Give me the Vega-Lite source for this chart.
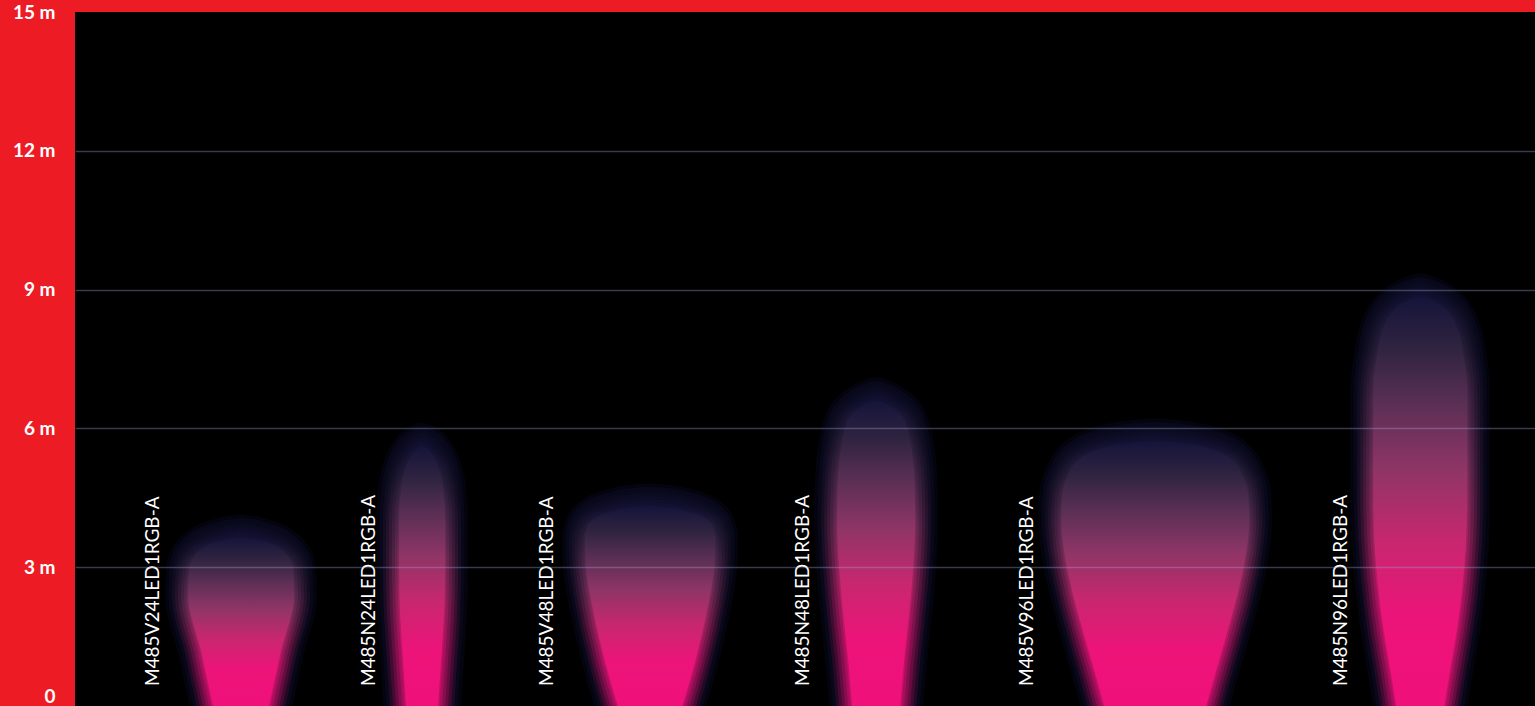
{
  "$schema": "https://vega.github.io/schema/vega-lite/v6.json",
  "width": 1460,
  "height": 694,
  "autosize": "none",
  "padding": {"left": 75, "top": 12, "right": 0, "bottom": 0},
  "background": "#ED1C24",
  "config": {"view": {"fill": "#000000", "stroke": null}},
  "datasets": {
    "beams": [
      {"beam": "M485V24LED1RGB-A", "h": 0, "xl": 2.983, "xr": 4.193},
      {"beam": "M485V24LED1RGB-A", "h": 1.2, "xl": 2.723, "xr": 4.453},
      {"beam": "M485V24LED1RGB-A", "h": 2.4, "xl": 2.442, "xr": 4.734},
      {"beam": "M485V24LED1RGB-A", "h": 2.95, "xl": 2.464, "xr": 4.712},
      {"beam": "M485V24LED1RGB-A", "h": 3.2, "xl": 2.551, "xr": 4.625},
      {"beam": "M485V24LED1RGB-A", "h": 3.38, "xl": 2.723, "xr": 4.453},
      {"beam": "M485V24LED1RGB-A", "h": 3.5, "xl": 2.939, "xr": 4.237},
      {"beam": "M485V24LED1RGB-A", "h": 3.57, "xl": 3.177, "xr": 3.999},
      {"beam": "M485V24LED1RGB-A", "h": 3.62, "xl": 3.393, "xr": 3.783},
      {"beam": "M485V24LED1RGB-A", "h": 3.64, "xl": 3.588, "xr": 3.588},

      {"beam": "M485N24LED1RGB-A", "h": 0, "xl": 7.154, "xr": 7.846},
      {"beam": "M485N24LED1RGB-A", "h": 1, "xl": 7.089, "xr": 7.911},
      {"beam": "M485N24LED1RGB-A", "h": 2, "xl": 7.025, "xr": 7.975},
      {"beam": "M485N24LED1RGB-A", "h": 3, "xl": 7.003, "xr": 7.997},
      {"beam": "M485N24LED1RGB-A", "h": 4, "xl": 7.003, "xr": 7.997},
      {"beam": "M485N24LED1RGB-A", "h": 4.7, "xl": 7.046, "xr": 7.954},
      {"beam": "M485N24LED1RGB-A", "h": 5.17, "xl": 7.154, "xr": 7.846},
      {"beam": "M485N24LED1RGB-A", "h": 5.42, "xl": 7.284, "xr": 7.716},
      {"beam": "M485N24LED1RGB-A", "h": 5.55, "xl": 7.392, "xr": 7.608},
      {"beam": "M485N24LED1RGB-A", "h": 5.62, "xl": 7.5, "xr": 7.5},

      {"beam": "M485V48LED1RGB-A", "h": 0, "xl": 11.733, "xr": 13.123},
      {"beam": "M485V48LED1RGB-A", "h": 0.5, "xl": 11.582, "xr": 13.274},
      {"beam": "M485V48LED1RGB-A", "h": 1.5, "xl": 11.322, "xr": 13.534},
      {"beam": "M485V48LED1RGB-A", "h": 2.3, "xl": 11.15, "xr": 13.706},
      {"beam": "M485V48LED1RGB-A", "h": 3.0, "xl": 11.042, "xr": 13.814},
      {"beam": "M485V48LED1RGB-A", "h": 3.6, "xl": 11.02, "xr": 13.836},
      {"beam": "M485V48LED1RGB-A", "h": 3.9, "xl": 11.085, "xr": 13.771},
      {"beam": "M485V48LED1RGB-A", "h": 4.0, "xl": 11.171, "xr": 13.685},
      {"beam": "M485V48LED1RGB-A", "h": 4.11, "xl": 11.344, "xr": 13.512},
      {"beam": "M485V48LED1RGB-A", "h": 4.21, "xl": 11.668, "xr": 13.188},
      {"beam": "M485V48LED1RGB-A", "h": 4.28, "xl": 11.973, "xr": 12.883},
      {"beam": "M485V48LED1RGB-A", "h": 4.32, "xl": 12.428, "xr": 12.428},

      {"beam": "M485N48LED1RGB-A", "h": 0, "xl": 16.794, "xr": 17.832},
      {"beam": "M485N48LED1RGB-A", "h": 1, "xl": 16.708, "xr": 17.918},
      {"beam": "M485N48LED1RGB-A", "h": 2, "xl": 16.6, "xr": 18.026},
      {"beam": "M485N48LED1RGB-A", "h": 3, "xl": 16.513, "xr": 18.113},
      {"beam": "M485N48LED1RGB-A", "h": 4, "xl": 16.47, "xr": 18.156},
      {"beam": "M485N48LED1RGB-A", "h": 5, "xl": 16.492, "xr": 18.134},
      {"beam": "M485N48LED1RGB-A", "h": 5.6, "xl": 16.557, "xr": 18.069},
      {"beam": "M485N48LED1RGB-A", "h": 6.0, "xl": 16.643, "xr": 17.983},
      {"beam": "M485N48LED1RGB-A", "h": 6.28, "xl": 16.773, "xr": 17.853},
      {"beam": "M485N48LED1RGB-A", "h": 6.47, "xl": 17.01, "xr": 17.616},
      {"beam": "M485N48LED1RGB-A", "h": 6.57, "xl": 17.205, "xr": 17.421},
      {"beam": "M485N48LED1RGB-A", "h": 6.61, "xl": 17.313, "xr": 17.313},

      {"beam": "M485V96LED1RGB-A", "h": 0, "xl": 22.241, "xr": 24.445},
      {"beam": "M485V96LED1RGB-A", "h": 0.7, "xl": 22.046, "xr": 24.64},
      {"beam": "M485V96LED1RGB-A", "h": 1.6, "xl": 21.787, "xr": 24.899},
      {"beam": "M485V96LED1RGB-A", "h": 2.4, "xl": 21.571, "xr": 25.115},
      {"beam": "M485V96LED1RGB-A", "h": 3.2, "xl": 21.398, "xr": 25.288},
      {"beam": "M485V96LED1RGB-A", "h": 4.0, "xl": 21.311, "xr": 25.375},
      {"beam": "M485V96LED1RGB-A", "h": 4.55, "xl": 21.333, "xr": 25.353},
      {"beam": "M485V96LED1RGB-A", "h": 5.0, "xl": 21.463, "xr": 25.223},
      {"beam": "M485V96LED1RGB-A", "h": 5.33, "xl": 21.7, "xr": 24.986},
      {"beam": "M485V96LED1RGB-A", "h": 5.52, "xl": 22.068, "xr": 24.618},
      {"beam": "M485V96LED1RGB-A", "h": 5.65, "xl": 22.608, "xr": 24.078},
      {"beam": "M485V96LED1RGB-A", "h": 5.7, "xl": 23.04, "xr": 23.646},
      {"beam": "M485V96LED1RGB-A", "h": 5.72, "xl": 23.343, "xr": 23.343},

      {"beam": "M485N96LED1RGB-A", "h": 0, "xl": 28.551, "xr": 29.589},
      {"beam": "M485N96LED1RGB-A", "h": 0.8, "xl": 28.421, "xr": 29.719},
      {"beam": "M485N96LED1RGB-A", "h": 1.7, "xl": 28.27, "xr": 29.87},
      {"beam": "M485N96LED1RGB-A", "h": 3, "xl": 28.119, "xr": 30.021},
      {"beam": "M485N96LED1RGB-A", "h": 4.6, "xl": 28.054, "xr": 30.086},
      {"beam": "M485N96LED1RGB-A", "h": 6.8, "xl": 28.054, "xr": 30.086},
      {"beam": "M485N96LED1RGB-A", "h": 7.6, "xl": 28.141, "xr": 29.999},
      {"beam": "M485N96LED1RGB-A", "h": 8.1, "xl": 28.249, "xr": 29.891},
      {"beam": "M485N96LED1RGB-A", "h": 8.48, "xl": 28.443, "xr": 29.697},
      {"beam": "M485N96LED1RGB-A", "h": 8.72, "xl": 28.724, "xr": 29.416},
      {"beam": "M485N96LED1RGB-A", "h": 8.82, "xl": 28.962, "xr": 29.178},
      {"beam": "M485N96LED1RGB-A", "h": 8.85, "xl": 29.07, "xr": 29.07}
    ],
    "labels": [
      {"label": "M485V24LED1RGB-A", "x": 1.686, "h": 0.43},
      {"label": "M485N24LED1RGB-A", "x": 6.354, "h": 0.43},
      {"label": "M485V48LED1RGB-A", "x": 10.202, "h": 0.43},
      {"label": "M485N48LED1RGB-A", "x": 15.735, "h": 0.43},
      {"label": "M485V96LED1RGB-A", "x": 20.576, "h": 0.43},
      {"label": "M485N96LED1RGB-A", "x": 27.363, "h": 0.43}
    ]
  },
  "layer": [
    {
      "data": {"name": "beams"},
      "mark": {"type": "area", "orient": "horizontal", "interpolate": "monotone", "clip": true, "fillOpacity": 0, "stroke": "#1C1C60", "strokeWidth": 46, "strokeOpacity": 0.14, "strokeJoin": "round"},
      "encoding": {
        "y": {"field": "h", "type": "quantitative", "scale": {"domain": [0, 15], "nice": false},
              "axis": {"values": [0, 3, 6, 9, 12, 15], "labelExpr": "datum.value == 0 ? '0' : datum.value + ' m'", "title": null, "ticks": false, "domain": false, "labelPadding": 20, "labelColor": "#FFFFFF", "labelFont": "Lato", "labelFontSize": 19, "labelFontWeight": "bold", "labelBaseline": {"condition": {"test": "datum.value == 0", "value": "bottom"}, "value": "middle"}, "grid": true, "gridColor": {"condition": {"test": "datum.value == 0 || datum.value == 15", "value": "transparent"}, "value": "#A0A8D0"}, "gridOpacity": 0.35, "gridWidth": 1.5, "zindex": 1}},
        "x": {"field": "xl", "type": "quantitative", "scale": {"domain": [0, 31.55], "nice": false, "zero": false}, "axis": null},
        "x2": {"field": "xr"},
        "detail": {"field": "beam"}
      }
    },
    {
      "data": {"name": "beams"},
      "mark": {"type": "area", "orient": "horizontal", "interpolate": "monotone", "clip": true, "fillOpacity": 0, "stroke": "#1C1C60", "strokeWidth": 39, "strokeOpacity": 0.16, "strokeJoin": "round"},
      "encoding": {
        "y": {"field": "h", "type": "quantitative"},
        "x": {"field": "xl", "type": "quantitative"},
        "x2": {"field": "xr"},
        "detail": {"field": "beam"}
      }
    },
    {
      "data": {"name": "beams"},
      "mark": {"type": "area", "orient": "horizontal", "interpolate": "monotone", "clip": true, "fillOpacity": 0, "strokeWidth": 32, "strokeOpacity": 0.12, "strokeJoin": "round",
        "stroke": {"gradient": "linear", "x1": 0, "y1": 1, "x2": 0, "y2": 0, "stops": [{"offset": 0, "color": "#F0107A"}, {"offset": 0.22, "color": "#EC1479"}, {"offset": 0.4, "color": "#C8276F"}, {"offset": 0.58, "color": "#8E3566"}, {"offset": 0.74, "color": "#5A2F55"}, {"offset": 0.87, "color": "#302440"}, {"offset": 1, "color": "#15143A"}]}},
      "encoding": {
        "y": {"field": "h", "type": "quantitative"},
        "x": {"field": "xl", "type": "quantitative"},
        "x2": {"field": "xr"},
        "detail": {"field": "beam"}
      }
    },
    {
      "data": {"name": "beams"},
      "mark": {"type": "area", "orient": "horizontal", "interpolate": "monotone", "clip": true, "fillOpacity": 0, "strokeWidth": 26, "strokeOpacity": 0.15, "strokeJoin": "round",
        "stroke": {"gradient": "linear", "x1": 0, "y1": 1, "x2": 0, "y2": 0, "stops": [{"offset": 0, "color": "#F0107A"}, {"offset": 0.22, "color": "#EC1479"}, {"offset": 0.4, "color": "#C8276F"}, {"offset": 0.58, "color": "#8E3566"}, {"offset": 0.74, "color": "#5A2F55"}, {"offset": 0.87, "color": "#302440"}, {"offset": 1, "color": "#15143A"}]}},
      "encoding": {
        "y": {"field": "h", "type": "quantitative"},
        "x": {"field": "xl", "type": "quantitative"},
        "x2": {"field": "xr"},
        "detail": {"field": "beam"}
      }
    },
    {
      "data": {"name": "beams"},
      "mark": {"type": "area", "orient": "horizontal", "interpolate": "monotone", "clip": true, "fillOpacity": 0, "strokeWidth": 20, "strokeOpacity": 0.2, "strokeJoin": "round",
        "stroke": {"gradient": "linear", "x1": 0, "y1": 1, "x2": 0, "y2": 0, "stops": [{"offset": 0, "color": "#F0107A"}, {"offset": 0.22, "color": "#EC1479"}, {"offset": 0.4, "color": "#C8276F"}, {"offset": 0.58, "color": "#8E3566"}, {"offset": 0.74, "color": "#5A2F55"}, {"offset": 0.87, "color": "#302440"}, {"offset": 1, "color": "#15143A"}]}},
      "encoding": {
        "y": {"field": "h", "type": "quantitative"},
        "x": {"field": "xl", "type": "quantitative"},
        "x2": {"field": "xr"},
        "detail": {"field": "beam"}
      }
    },
    {
      "data": {"name": "beams"},
      "mark": {"type": "area", "orient": "horizontal", "interpolate": "monotone", "clip": true, "fillOpacity": 0, "strokeWidth": 14, "strokeOpacity": 0.25, "strokeJoin": "round",
        "stroke": {"gradient": "linear", "x1": 0, "y1": 1, "x2": 0, "y2": 0, "stops": [{"offset": 0, "color": "#F0107A"}, {"offset": 0.22, "color": "#EC1479"}, {"offset": 0.4, "color": "#C8276F"}, {"offset": 0.58, "color": "#8E3566"}, {"offset": 0.74, "color": "#5A2F55"}, {"offset": 0.87, "color": "#302440"}, {"offset": 1, "color": "#15143A"}]}},
      "encoding": {
        "y": {"field": "h", "type": "quantitative"},
        "x": {"field": "xl", "type": "quantitative"},
        "x2": {"field": "xr"},
        "detail": {"field": "beam"}
      }
    },
    {
      "data": {"name": "beams"},
      "mark": {"type": "area", "orient": "horizontal", "interpolate": "monotone", "clip": true, "fillOpacity": 0, "strokeWidth": 8, "strokeOpacity": 0.3, "strokeJoin": "round",
        "stroke": {"gradient": "linear", "x1": 0, "y1": 1, "x2": 0, "y2": 0, "stops": [{"offset": 0, "color": "#F0107A"}, {"offset": 0.22, "color": "#EC1479"}, {"offset": 0.4, "color": "#C8276F"}, {"offset": 0.58, "color": "#8E3566"}, {"offset": 0.74, "color": "#5A2F55"}, {"offset": 0.87, "color": "#302440"}, {"offset": 1, "color": "#15143A"}]}},
      "encoding": {
        "y": {"field": "h", "type": "quantitative"},
        "x": {"field": "xl", "type": "quantitative"},
        "x2": {"field": "xr"},
        "detail": {"field": "beam"}
      }
    },
    {
      "data": {"name": "beams"},
      "mark": {"type": "area", "orient": "horizontal", "interpolate": "monotone", "clip": true, "fillOpacity": 1, "strokeWidth": 3, "strokeOpacity": 0.4, "strokeJoin": "round",
        "fill": {"gradient": "linear", "x1": 0, "y1": 1, "x2": 0, "y2": 0, "stops": [{"offset": 0, "color": "#F0107A"}, {"offset": 0.22, "color": "#EC1479"}, {"offset": 0.4, "color": "#C8276F"}, {"offset": 0.58, "color": "#8E3566"}, {"offset": 0.74, "color": "#5A2F55"}, {"offset": 0.87, "color": "#302440"}, {"offset": 1, "color": "#15143A"}]},
        "stroke": {"gradient": "linear", "x1": 0, "y1": 1, "x2": 0, "y2": 0, "stops": [{"offset": 0, "color": "#F0107A"}, {"offset": 0.22, "color": "#EC1479"}, {"offset": 0.4, "color": "#C8276F"}, {"offset": 0.58, "color": "#8E3566"}, {"offset": 0.74, "color": "#5A2F55"}, {"offset": 0.87, "color": "#302440"}, {"offset": 1, "color": "#15143A"}]}},
      "encoding": {
        "y": {"field": "h", "type": "quantitative"},
        "x": {"field": "xl", "type": "quantitative"},
        "x2": {"field": "xr"},
        "detail": {"field": "beam"}
      }
    },
    {
      "data": {"name": "labels"},
      "mark": {"type": "text", "angle": 270, "align": "left", "baseline": "middle", "color": "#FFFFFF", "font": "Lato", "fontSize": 19},
      "encoding": {
        "y": {"field": "h", "type": "quantitative"},
        "x": {"field": "x", "type": "quantitative"},
        "text": {"field": "label"}
      }
    }
  ]
}
